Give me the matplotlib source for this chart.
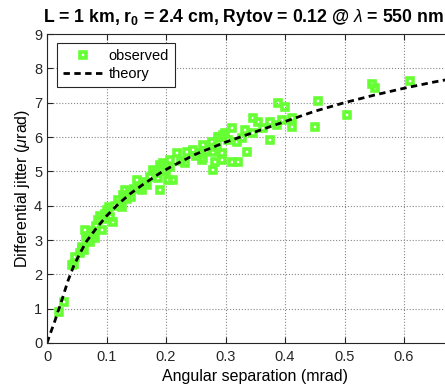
import matplotlib.pyplot as plt
import numpy as np

plt.rcParams['font.family'] = ['Liberation Sans', 'DejaVu Sans']
plt.rcParams['mathtext.fontset'] = 'custom'
plt.rcParams['mathtext.rm'] = 'Liberation Sans'
plt.rcParams['mathtext.it'] = 'Liberation Sans:italic'
plt.rcParams['mathtext.bf'] = 'Liberation Sans:bold'

# observed points (angular separation in mrad, jitter in urad)
obs_x = [0.020, 0.029, 0.042, 0.045, 0.047, 0.055, 0.058, 0.059, 0.062, 0.064,
         0.066, 0.070, 0.072, 0.075, 0.077, 0.080, 0.083, 0.086, 0.089, 0.092,
         0.095, 0.098, 0.101, 0.104, 0.106, 0.111, 0.115, 0.119, 0.122, 0.126,
         0.128, 0.131, 0.135, 0.139, 0.142, 0.146, 0.151, 0.155, 0.160, 0.165,
         0.168, 0.173, 0.178, 0.183, 0.186, 0.190, 0.190, 0.195, 0.200, 0.203,
         0.207, 0.207, 0.212, 0.218, 0.225, 0.232, 0.235, 0.245, 0.250, 0.257,
         0.260, 0.262, 0.262, 0.268, 0.277, 0.279, 0.279, 0.282, 0.285, 0.287,
         0.291, 0.294, 0.294, 0.296, 0.299, 0.305, 0.311, 0.311, 0.319, 0.321,
         0.328, 0.333, 0.336, 0.346, 0.346, 0.355, 0.363, 0.375, 0.375, 0.387,
         0.388, 0.395, 0.400, 0.412, 0.412, 0.450, 0.455, 0.504, 0.546, 0.551,
         0.610]
obs_y = [0.90, 1.20, 2.27, 2.30, 2.50, 2.62, 2.75, 2.80, 2.70, 3.30,
         3.10, 3.00, 2.95, 3.25, 3.15, 3.05, 3.40, 3.59, 3.70, 3.30,
         3.60, 3.75, 3.88, 3.95, 3.67, 3.53, 4.00, 4.17, 4.05, 3.97,
         4.30, 4.46, 4.20, 4.40, 4.25, 4.50, 4.75, 4.55, 4.46, 4.70,
         4.60, 4.84, 5.04, 4.95, 4.80, 5.19, 4.46, 5.25, 5.00, 4.75,
         5.13, 5.34, 4.75, 5.54, 5.30, 5.25, 5.57, 5.63, 5.45, 5.54,
         5.34, 5.77, 5.40, 5.60, 5.86, 5.57, 5.04, 5.28, 5.70, 6.00,
         6.00, 5.54, 5.34, 6.06, 6.12, 5.90, 6.27, 5.28, 5.86, 5.28,
         5.98, 6.21, 5.57, 6.56, 6.12, 6.44, 6.27, 6.44, 5.92, 6.36,
         7.00, 6.50, 6.88, 6.56, 6.30, 6.30, 7.05, 6.65, 7.55, 7.43,
         7.64]

# theory curve
th_x = [0, 0.005, 0.012, 0.025, 0.035, 0.045, 0.055, 0.066, 0.081, 0.10,
        0.12, 0.14, 0.16, 0.19, 0.21, 0.25, 0.30, 0.35, 0.40, 0.45,
        0.50, 0.55, 0.60, 0.65, 0.70]
th_y = [0, 0.25, 0.58, 1.25, 1.80, 2.25, 2.60, 2.95, 3.30, 3.70,
        4.05, 4.35, 4.60, 4.95, 5.15, 5.50, 5.85, 6.15, 6.45, 6.75,
        7.00, 7.22, 7.42, 7.60, 7.76]

x_ticks = [0, 0.1, 0.2, 0.3, 0.4, 0.5, 0.6, 0.7]
x_labels = ['0', '0.1', '0.2', '0.3', '0.4', '0.5', '0.6', '']

fig = plt.figure(figsize=(4.45, 3.92), dpi=100)
ax = fig.add_axes([47/445, 49/392, 416.5/445, 309/392])

ax.plot(obs_x, obs_y, 's', color='#66ff33', mfc='none', mew=2.6, ms=4.6,
        label='observed')
ax.plot(th_x, th_y, '--', color='black', lw=2, dashes=(2.3, 1.6),
        label='theory')

ax.set_xlim(0, 0.7)
ax.set_ylim(0, 9)
ax.set_xticks(x_ticks)
ax.set_xticklabels(x_labels)
ax.set_yticks(range(0, 10))
ax.grid(True, linestyle=':', color='#888888', lw=0.8)
ax.tick_params(direction='in', top=True, right=True, labelsize=10.5, length=4,
               colors='#262626')
ax.tick_params(axis='x', pad=5)
for s in ax.spines.values():
    s.set_color('#262626')

ax.set_xlabel('Angular separation (mrad)', fontsize=11.5, labelpad=4)
ax.set_ylabel(r'Differential jitter ($\mu$rad)', fontsize=11.5, labelpad=1)
fig.text(0.548, 0.955, r'L = 1 km, r$_\mathbf{0}$ = 2.4 cm, Rytov = 0.12 @ $\lambda$ = 550 nm',
         ha='center', va='center', fontsize=12.7, fontweight='bold')

leg = ax.legend(loc='upper left', bbox_to_anchor=(0.024, 0.97), fontsize=10.5,
                fancybox=False, edgecolor='#262626', framealpha=1,
                handlelength=2.8, borderpad=0.4, labelspacing=0.3,
                handletextpad=0.35, borderaxespad=0)
leg.get_frame().set_linewidth(0.8)

fig.savefig('out.png', dpi=100)
